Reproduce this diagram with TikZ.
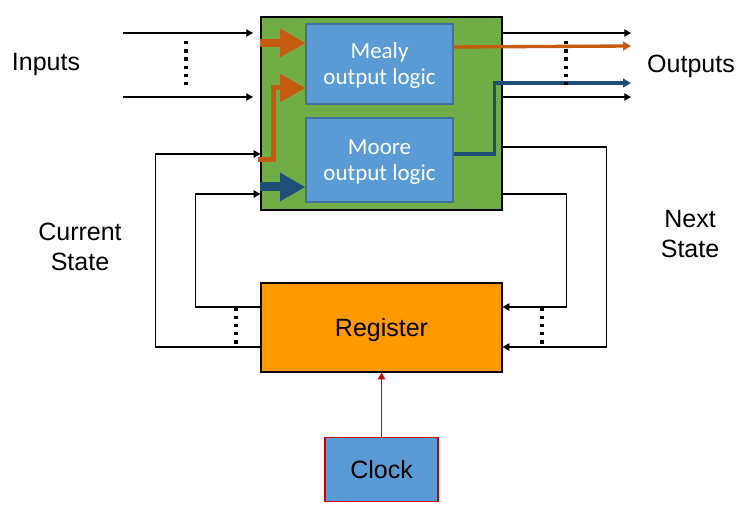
\documentclass[tikz,border=0pt]{standalone}
\usepackage{fontspec}
\setmainfont{Liberation Sans}
\newfontfamily\logicfont{Carlito}
\usetikzlibrary{positioning, arrows.meta}

\definecolor{combgreen}{HTML}{70AD47}
\definecolor{logicblue}{HTML}{5B9BD5}
\definecolor{logicedge}{HTML}{41719C}
\definecolor{regorange}{HTML}{FF9900}
\definecolor{mealyorange}{HTML}{C55A11}
\definecolor{moorenavy}{HTML}{1F4E79}
\definecolor{clockred}{HTML}{D00000}

\begin{document}
\begin{tikzpicture}[
  x=0.75pt, y=-0.75pt,
  every node/.style={font=\fontsize{18.75}{23}\selectfont},
  block/.style={rectangle, draw, line width=0.9pt, inner sep=0pt},
  logic/.style={rectangle, draw=logicedge, fill=logicblue, line width=0.8pt,
    minimum width=110.25pt, text=white, align=center, inner sep=0pt, text depth=0pt,
    font=\logicfont\fontsize{17.25}{19.5}\selectfont},
  arrow/.style={-{Triangle[length=5pt,width=5.5pt]}, line width=0.8pt},
  outarrow/.style={-{Triangle[length=6pt,width=6.5pt]}, line width=2.5pt},
  bigarrow/.style={-{Triangle[length=19pt,width=20pt]}},
  dots/.style={line width=2.5pt, dash pattern=on 2.5pt off 3.65pt}
]
\useasboundingbox (0,0) rectangle (748,516);

% Blocks
\node[block, fill=combgreen, minimum width=180.75pt, minimum height=144.75pt] (comb) at (381.5,113.5) {};
\node[logic, minimum height=60pt] (mealy) at (379.5,64) {Mealy\\output logic};
\node[logic, minimum height=63pt] (moore) at (379.5,160) {Moore\\output logic};
\node[block, fill=regorange, text depth=0pt, minimum width=180.75pt, minimum height=66.75pt] (reg) at (381.5,327.5) {Register};
\node[block, draw=clockred, fill=logicblue, line width=0.8pt, minimum width=84.75pt, minimum height=48pt,
  below=48pt of reg] (clock) {Clock};

% Labels
\node[align=center] (inlabel) at (46,64) {Inputs};
\node[align=center] (outlabel) at (691,66) {Outputs};
\node[align=center] (curlabel) at (80,247) {Current\\State};
\node[align=center] (nextlabel) at (690,234) {Next\\State};

% Inputs
\coordinate (in1) at (123,33);
\coordinate (in2) at (123,97);
\draw[arrow] (in1) -- (253,33);
\draw[arrow] (in2) -- (253,97);
\draw[dots] (186,41) -- (186,85);

% Outputs
\coordinate (out1) at (631,33);
\coordinate (out2) at (631,46);
\coordinate (out3) at (631,83);
\coordinate (out4) at (631,97);
\draw[arrow] (comb.east |- out1) -- (out1);
\draw[arrow] (comb.east |- out4) -- (out4);
\draw[outarrow, mealyorange] (mealy.east |- 0,47) -- (out2);
\draw[outarrow, moorenavy] (moore.east |- 0,154) -- ++(41,0) |- (out3);
\draw[dots] (566,41) -- (566,85);

% Paths into the logic blocks
\draw[bigarrow, mealyorange, line width=6pt] (comb.west |- 0,43) -- (mealy.west |- 0,43);
\coordinate (stin) at (258,160);
\draw[bigarrow, mealyorange, line width=3.75pt] (stin) -| (273,88) -- (mealy.west |- 0,88);
\draw[bigarrow, moorenavy, line width=6.75pt] (comb.west |- 0,187) -- (moore.west |- 0,187);

% Current state feedback
\draw[arrow] (reg.west |- 0,347) -- ++(-105,0) |- (comb.west |- 0,154);
\draw[arrow] (reg.west |- 0,307) -- ++(-65,0) |- (comb.west |- 0,194);
\draw[dots] (236,307.5) -- (236,345);

% Next state
\draw[arrow] (comb.east |- 0,147) -- ++(104,0) |- (reg.east |- 0,347);
\draw[arrow] (comb.east |- 0,194) -- ++(64,0) |- (reg.east |- 0,307);
\draw[dots] (542,307.5) -- (542,345);

% Clock
\draw[arrow, clockred, line width=0.6pt] (clock) -- (reg);

\end{tikzpicture}
\end{document}
